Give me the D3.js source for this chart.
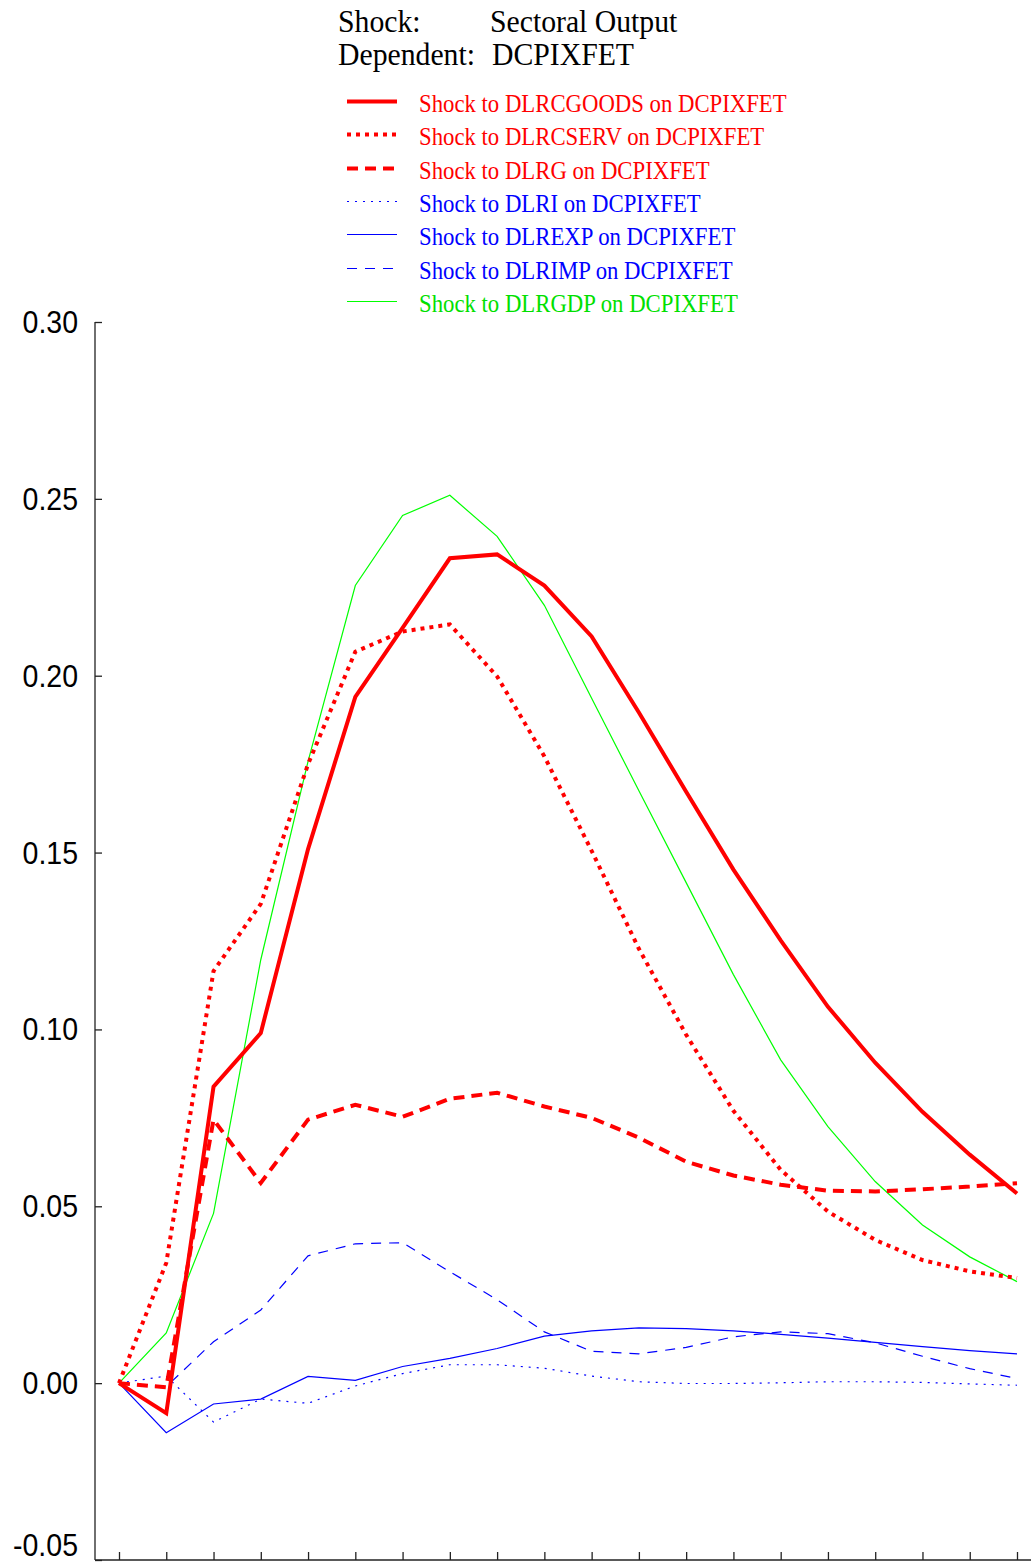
<!DOCTYPE html>
<html lang="en">
<head>
  <meta charset="utf-8">
  <title>Shock: Sectoral Output</title>
  <script src="https://cdn.jsdelivr.net/npm/d3@7"></script>
  <style>
    body { margin: 0; background: #fff; }
    .head { font-family: "Liberation Serif", "DejaVu Serif", serif; font-size: 32.5px; fill: #000; }
    .leg { font-family: "Liberation Serif", "DejaVu Serif", serif; font-size: 25px; }
    .ytick { font-family: "Liberation Sans", Arial, sans-serif; font-size: 31px; fill: #000; }
    .axis line, .axis path { stroke: #222; stroke-width: 1.3; }
  </style>
</head>
<body>
<div id="chart"></div>
<script>
"use strict";

// periods 0..19
var periods = d3.range(0, 20);

var dlrcgoods = [0, -0.0085, 0.0838, 0.099, 0.151, 0.194, 0.2135, 0.2332, 0.2343, 0.2255, 0.2111, 0.1896, 0.1672, 0.1452, 0.1252, 0.1064, 0.0906, 0.0767, 0.0646, 0.0536];
var dlrcserv  = [0, 0.034, 0.1165, 0.1355, 0.175, 0.2068, 0.2125, 0.2145, 0.1998, 0.1772, 0.1505, 0.1228, 0.0985, 0.077, 0.0603, 0.0485, 0.0405, 0.0348, 0.0316, 0.0297];
var dlrg      = [0, -0.0012, 0.0745, 0.0566, 0.0745, 0.0787, 0.0753, 0.0804, 0.0821, 0.0782, 0.075, 0.0694, 0.0626, 0.0587, 0.0561, 0.0544, 0.0542, 0.0548, 0.0556, 0.0565];
var dlri      = [0, 0.002, -0.011, -0.0045, -0.0057, -0.0008, 0.0027, 0.0052, 0.0052, 0.0042, 0.002, 0.0004, -0.0001, -0.0001, 0.0001, 0.0004, 0.0004, 0.0002, -0.0002, -0.0006];
var dlrexp    = [0, -0.014, -0.0059, -0.0045, 0.0019, 0.0008, 0.0047, 0.007, 0.0098, 0.0133, 0.0148, 0.0156, 0.0154, 0.0148, 0.0138, 0.0127, 0.0115, 0.0103, 0.0092, 0.0083];
var dlrimp    = [0, -0.001, 0.0117, 0.0207, 0.036, 0.0394, 0.0397, 0.0315, 0.0236, 0.0145, 0.009, 0.0083, 0.0101, 0.0131, 0.0145, 0.014, 0.0114, 0.0076, 0.0041, 0.0013];
var dlrgdp    = [0, 0.0142, 0.048, 0.1197, 0.1758, 0.2255, 0.2453, 0.251, 0.2394, 0.2199, 0.1936, 0.1675, 0.1415, 0.1155, 0.0914, 0.0725, 0.057, 0.0447, 0.0357, 0.0287];

var yTicks = [-0.05, 0.00, 0.05, 0.10, 0.15, 0.20, 0.25, 0.30];

var series = [
  { name: "Shock to DLRCGOODS on DCPIXFET", values: dlrcgoods, color: "#ff0000", text: "#ff0000", width: 4,   dash: null },
  { name: "Shock to DLRCSERV on DCPIXFET",  values: dlrcserv,  color: "#ff0000", text: "#ff0000", width: 4,   dash: "4,5" },
  { name: "Shock to DLRG on DCPIXFET",      values: dlrg,      color: "#ff0000", text: "#ff0000", width: 4,   dash: "11,7" },
  { name: "Shock to DLRI on DCPIXFET",      values: dlri,      color: "#0000ff", text: "#0000ff", width: 1.2, dash: "2,6" },
  { name: "Shock to DLREXP on DCPIXFET",    values: dlrexp,    color: "#0000ff", text: "#0000ff", width: 1.2, dash: null },
  { name: "Shock to DLRIMP on DCPIXFET",    values: dlrimp,    color: "#0000ff", text: "#0000ff", width: 1.2, dash: "10,8" },
  { name: "Shock to DLRGDP on DCPIXFET",    values: dlrgdp,    color: "#00ff00", text: "#00e000", width: 1.2, dash: null }
];

var W = 1031, H = 1562;
var svg = d3.select("#chart").append("svg")
  .attr("width", W).attr("height", H);

var x = d3.scaleLinear().domain([0, 19]).range([119, 1017]);
var y = d3.scaleLinear().domain([-0.05, 0.30]).range([1560, 322]);

// header
function headText(tx, ty, s) {
  svg.append("g").attr("transform", "translate(" + tx + "," + ty + ") scale(0.915,1)")
    .append("text").attr("class", "head").text(s);
}
headText(338, 32, "Shock:");
headText(490, 32, "Sectoral Output");
headText(338, 65, "Dependent:");
headText(492, 65, "DCPIXFET");

// legend
var leg = svg.append("g");
series.forEach(function(s, i) {
  var cy = Math.round(101 + i * 33.3) + 0.5;
  leg.append("line")
    .attr("x1", 347).attr("x2", 397).attr("y1", cy).attr("y2", cy)
    .attr("stroke", s.color).attr("stroke-width", s.width)
    .attr("stroke-dasharray", s.dash);
  leg.append("g").attr("transform", "translate(419," + (cy + 10) + ") scale(0.91,1)")
    .append("text").attr("class", "leg").attr("fill", s.text).text(s.name);
});

// axes
var yAxis = svg.append("g").attr("class", "axis")
  .attr("transform", "translate(95,0)")
  .call(d3.axisRight(y).tickValues(yTicks).tickSize(7).tickSizeOuter(0).tickFormat(""));
yAxis.select(".domain").attr("d", "M0," + y(0.30) + "V" + y(-0.05));

var xAxis = svg.append("g").attr("class", "axis")
  .attr("transform", "translate(0," + y(-0.05) + ")")
  .call(d3.axisTop(x).tickValues(periods).tickSize(8).tickSizeOuter(0).tickFormat(""));
xAxis.select(".domain").attr("d", "M95,0H" + W);

// y tick labels (plain hyphen for the negative label)
yTicks.forEach(function(t) {
  var ty = y(t);
  if (t === -0.05) ty = 1545;
  svg.append("g").attr("transform", "translate(78," + (ty + 11) + ") scale(0.92,1)")
    .append("text").attr("class", "ytick").attr("text-anchor", "end")
    .text(t.toFixed(2));
});

// lines
var line = d3.line()
  .x(function(d, i) { return x(periods[i]); })
  .y(function(d) { return y(d); });

var drawOrder = [6, 5, 4, 3, 2, 1, 0];
drawOrder.forEach(function(k) {
  var s = series[k];
  svg.append("path")
    .datum(s.values)
    .attr("d", line)
    .attr("fill", "none")
    .attr("stroke", s.color)
    .attr("stroke-width", s.width)
    .attr("stroke-dasharray", s.dash);
});
</script>
</body>
</html>
